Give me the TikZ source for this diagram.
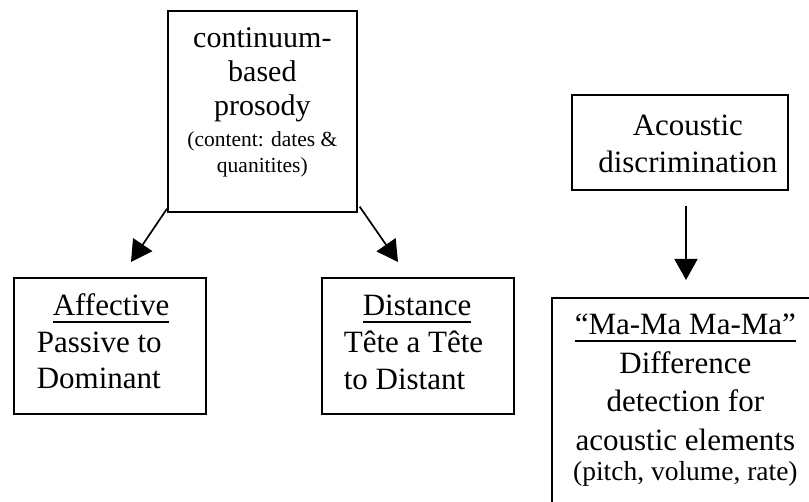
\documentclass[tikz,border=0pt]{standalone}
\usepackage{fontspec}
\setmainfont{Liberation Serif}
\usetikzlibrary{arrows.meta}
\newcommand\myul[1]{\setbox0\hbox{#1}\rlap{\rule[-7pt]{\wd0}{1.8pt}}\box0}
\begin{document}
\begin{tikzpicture}[x=1pt,y=-1pt,
  box/.style={draw, line width=1.7pt, inner sep=0pt, anchor=north west},
  arr/.style={line width=1.7pt, -{Triangle[length=21pt,width=23pt]}}]
\path[use as bounding box, clip] (0,0) rectangle (809,502);
\fill[white] (0,0) rectangle (809,502);

\node[box] (top) at (167,10) {\parbox[t][201pt][t]{189pt}{\centering
  \fontsize{30}{34}\selectfont\rule{0pt}{37pt}continuum-\\based\\prosody\\[5pt]
  \fontsize{21.5}{26}\selectfont (content: dates \&\\quanitites)}};

\node[box] (aff) at (13,277) {\parbox[t][136pt][t]{192pt}{\raggedright
  \fontsize{31}{36.5}\selectfont\rule{0pt}{38pt}\hspace*{39pt}\myul{Affective}\\
  \hspace*{23pt}Passive to\\\hspace*{23pt}Dominant}};

\node[box] (dist) at (321,277) {\parbox[t][136pt][t]{192pt}{\raggedright
  \fontsize{31}{37}\selectfont\rule{0pt}{38pt}\hspace*{41pt}\myul{Distance}\\
  \hspace*{22pt}Tête a Tête\\\hspace*{22pt}to Distant}};

\node[box] (acou) at (571,94) {\parbox[t][95pt][t]{216pt}{\centering
  \fontsize{31}{37}\selectfont\rule{0pt}{41pt}\hspace*{16pt}Acoustic\\
  \hspace*{16pt}discrimination}};

\node[box] (mama) at (551,297) {\parbox[t][233pt][t]{267pt}{\centering
  \fontsize{31}{38.5}\selectfont\rule{0pt}{37pt}\myul{“Ma-Ma Ma-Ma”}\\
  Difference\\detection for\\acoustic elements\\
  \fontsize{27.5}{30}\selectfont (pitch, volume, rate)}};

\coordinate (tipL) at (131,262);
\coordinate (tipR) at (398,262);
\coordinate (tipV) at (686,280);
\draw[arr] ([yshift=4pt]top.south west) -- (tipL);
\draw[arr] ([xshift=2pt,yshift=6pt]top.south east) -- (tipR);
\path (acou.south -| tipV) coordinate (vs);
\draw[arr] ([yshift=-15pt]vs) -- (tipV);
\end{tikzpicture}
\end{document}
